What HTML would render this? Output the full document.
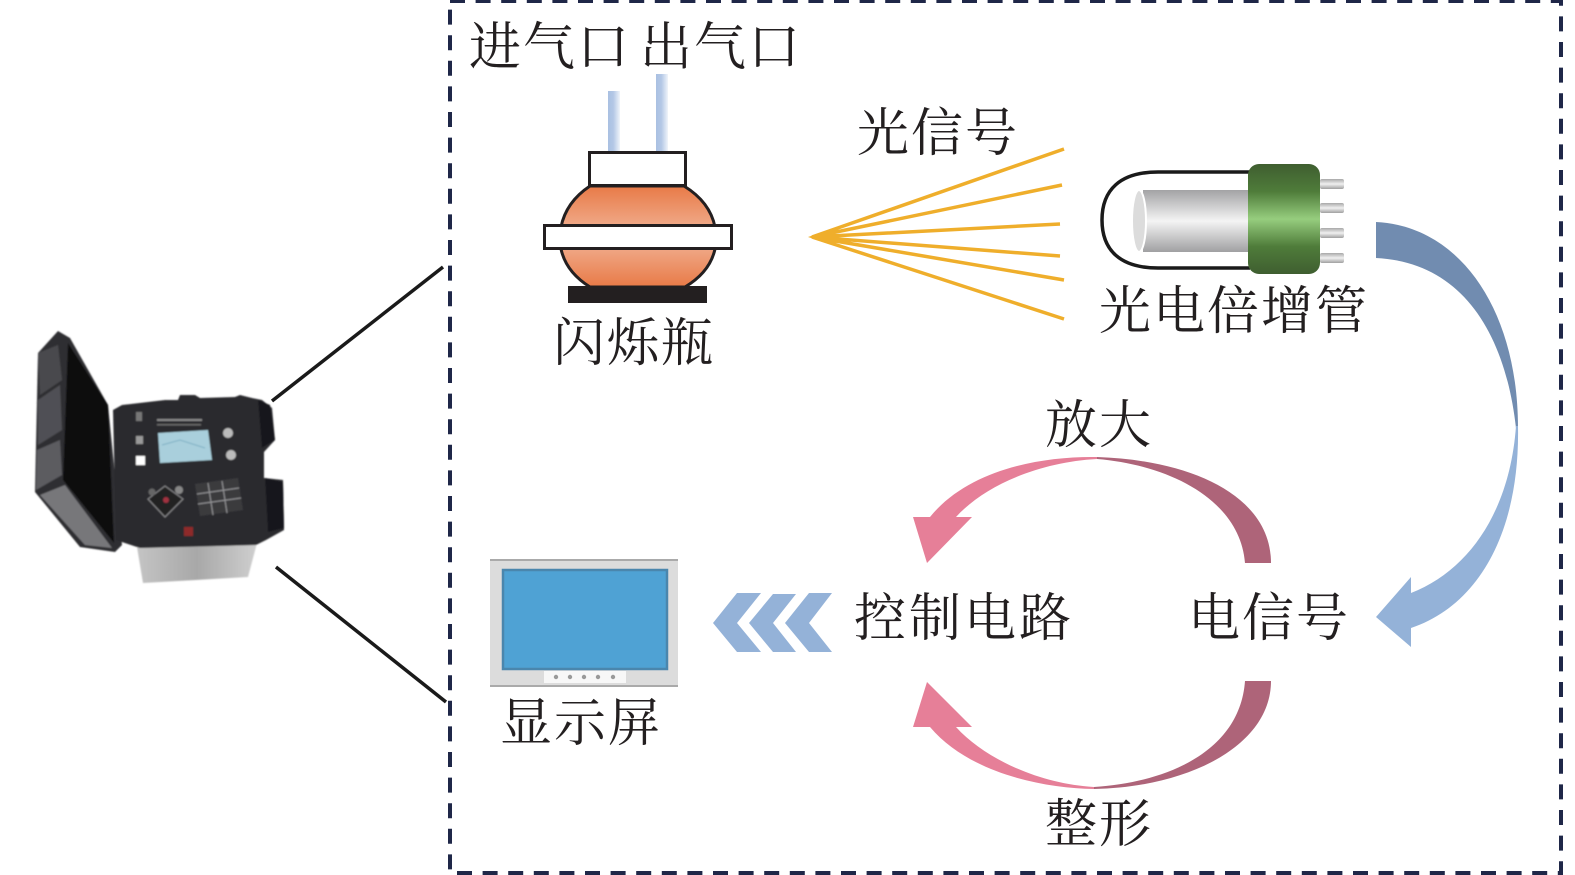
<!DOCTYPE html>
<html><head><meta charset="utf-8"><style>
html,body{margin:0;padding:0;background:#fff;width:1575px;height:875px;overflow:hidden}
svg{display:block}
text{font-family:"Liberation Serif","Noto Serif CJK SC",serif;font-size:52px;fill:#231f20;letter-spacing:2px}
</style></head><body>
<svg width="1575" height="875" viewBox="0 0 1575 875" xmlns="http://www.w3.org/2000/svg">
<defs>
<linearGradient id="tube" x1="0" x2="1" y1="0" y2="0"><stop offset="0" stop-color="#a9c0e2"/><stop offset=".45" stop-color="#b4c8e6"/><stop offset="1" stop-color="#f0f4fa"/></linearGradient>
<linearGradient id="fl" x1="0" x2="0" y1="0" y2="1"><stop offset="0" stop-color="#e87a47"/><stop offset=".4" stop-color="#f0a988"/><stop offset=".6" stop-color="#f0a988"/><stop offset="1" stop-color="#e87a47"/></linearGradient>
<linearGradient id="cyl" x1="0" x2="0" y1="0" y2="1"><stop offset="0" stop-color="#a3a3a5"/><stop offset=".5" stop-color="#f4f4f4"/><stop offset="1" stop-color="#a0a0a2"/></linearGradient>
<linearGradient id="grn" x1="0" x2="0" y1="0" y2="1"><stop offset="0" stop-color="#3f5e30"/><stop offset=".25" stop-color="#4f7c3a"/><stop offset=".5" stop-color="#96cd7e"/><stop offset=".75" stop-color="#4f7c3a"/><stop offset="1" stop-color="#3f5e30"/></linearGradient>
<linearGradient id="pin" x1="0" x2="0" y1="0" y2="1"><stop offset="0" stop-color="#a8a8a8"/><stop offset=".5" stop-color="#f0f0f0"/><stop offset="1" stop-color="#a0a0a0"/></linearGradient>
<linearGradient id="box" x1="0" x2="1" y1="0" y2="0"><stop offset="0" stop-color="#c4c4c4"/><stop offset=".5" stop-color="#a8a8a8"/><stop offset="1" stop-color="#cfcfcf"/></linearGradient>
<filter id="b" x="-5%" y="-5%" width="110%" height="110%"><feGaussianBlur stdDeviation="0.8"/></filter>
</defs>

<!-- dashed frame -->
<rect x="450" y="1" width="1111" height="872" fill="none" stroke="#1f2748" stroke-width="4" stroke-dasharray="15 10.6"/>

<!-- connector lines -->
<path d="M272 401L443 267M276 567L446 702" stroke="#1a1a1a" stroke-width="3.5" fill="none"/>

<!-- device -->
<g filter="url(#b)">
<polygon points="58,331 70,338 108,405 122,545 115,552 80,547 35,492 38,353" fill="#2f2f33"/>
<polygon points="38,353 58,345 62,380 40,395" fill="#4a4a4e"/>
<polygon points="38,400 60,385 62,430 38,445" fill="#505054"/>
<polygon points="37,450 60,440 62,475 36,490" fill="#5c5c60"/>
<polygon points="68,343 108,405 114,543 63,480" fill="#08080a"/>
<polygon points="40,495 65,485 112,548 85,545" fill="#77777a"/>
<polygon points="137,547 257,543 248,577 143,583" fill="url(#box)"/>
<polygon points="165,400 178,400 180,395 195,395 200,398 235,397 240,395 252,398 262,400 272,408 275,440 264,452 264,478 283,480 284,530 266,540 256,545 140,548 116,540 113,410 122,405" fill="#2b2b2f"/>
<polygon points="258,400 270,405 275,440 262,448" fill="#17171a"/>
<polygon points="265,478 283,482 284,528 268,532" fill="#17171a"/>
<polygon points="158,433 208,430 212,460 160,463" fill="#a9cfdc"/>
<path d="M162 445L180 440L205 448" stroke="#7fb0c4" fill="none"/>
<polygon points="195,484 238,478 243,510 200,516" fill="#3a3a3e"/>
<path d="M197 494L239 488M198 504L241 498M208 483L213 515M222 481L227 513" stroke="#9a9a9c" stroke-width="1" fill="none"/>
<polygon points="165,486 183,499 165,517 148,499" fill="#202024" stroke="#8e8e90"/>
<circle cx="166" cy="500" r="3" fill="#a03040"/>
<circle cx="152" cy="492" r="3.5" fill="#666"/><circle cx="179" cy="490" r="4" fill="#888"/>
<circle cx="228" cy="433" r="5" fill="#bbb"/><circle cx="231" cy="455" r="5" fill="#bbb"/>
<rect x="136" y="456" width="9" height="9" fill="#fff"/>
<rect x="136" y="436" width="7" height="8" fill="#999"/>
<rect x="136" y="412" width="6" height="9" fill="#777"/>
<rect x="157" y="419" width="45" height="2" fill="#8a8a8a"/><rect x="157" y="424" width="44" height="1.5" fill="#6a6a6a"/>
<rect x="184" y="527" width="9" height="9" fill="#8e2a2a"/>
</g>

<!-- scintillation flask -->
<rect x="608" y="91" width="12" height="61" fill="url(#tube)"/>
<rect x="656" y="74" width="12" height="78" fill="url(#tube)"/>
<path d="M590 186Q566 202 561 227L561 249Q566 272 590 287L685 287Q710 272 715 249L715 227Q710 202 684 186Z" fill="url(#fl)" stroke="#231f20" stroke-width="3"/>
<rect x="589.5" y="152.5" width="96" height="33" fill="#fff" stroke="#231f20" stroke-width="3"/>
<rect x="544.5" y="225.5" width="187" height="23" fill="#fff" stroke="#231f20" stroke-width="3"/>
<rect x="568" y="286" width="139" height="17" fill="#231f20"/>

<!-- light rays -->
<g stroke="#efae2b" stroke-width="3.5" fill="none">
<path d="M812 237L1064 149M812 237L1062 185M812 237L1060 224M812 237L1060 256M812 237L1064 280M812 237L1064 319"/>
</g>
<polygon points="808,237 835,228 835,246" fill="#efae2b"/>

<!-- PMT -->
<path d="M1250 172H1158C1120 172 1102 190 1102 220C1102 250 1120 268 1158 268H1250" fill="#fff" stroke="#1a1a1a" stroke-width="3.5"/>
<rect x="1143" y="190" width="106" height="62" fill="url(#cyl)"/>
<ellipse cx="1139" cy="221" rx="7" ry="31" fill="#dcdcdc" stroke="#fff" stroke-width="2"/>
<g fill="url(#pin)"><rect x="1320" y="179" width="24" height="10" rx="2"/><rect x="1320" y="203" width="24" height="10" rx="2"/><rect x="1320" y="228" width="24" height="10" rx="2"/><rect x="1320" y="253" width="24" height="10" rx="2"/></g>
<rect x="1248" y="164" width="72" height="110" rx="11" fill="url(#grn)"/>

<!-- big blue arrow -->
<path d="M1376 222C1460 226 1518 310 1518 428L1516 428C1505 330 1460 262 1376 258Z" fill="#718cb0"/>
<path d="M1516 426L1518 426C1520 530 1480 605 1411 628L1411 647L1376 617L1411 577L1411 593C1470 570 1510 510 1516 426Z" fill="#94b2d8"/>

<!-- pink arrows -->
<path d="M1097 457C1040 456 968 470 930 517L913 517L927 563L972 517L956 517C985 485 1040 462 1097 459Z" fill="#e67f98"/>
<path d="M1097 457C1190 460 1271 495 1271 563L1245 563C1240 500 1170 465 1097 459Z" fill="#ae6479"/>
<path d="M1094 789C1040 788 968 772 930 727L913 727L927 682L972 727L956 727C985 759 1040 784 1094 787Z" fill="#e67f98"/>
<path d="M1094 787C1170 782 1240 750 1245 681L1271 681C1271 745 1190 787 1094 789Z" fill="#ae6479"/>

<!-- monitor -->
<rect x="490" y="559" width="188" height="128" fill="#dcdcdc"/>
<rect x="490" y="559" width="188" height="2" fill="#aaa"/>
<rect x="490" y="685" width="188" height="2" fill="#aaa"/>
<rect x="503" y="570" width="164" height="99" fill="#4fa2d4" stroke="#4a86ad" stroke-width="2.5"/>
<rect x="544" y="671" width="82" height="12" fill="#f7f7f7"/>
<g fill="#999"><circle cx="556" cy="677" r="2.2"/><circle cx="570" cy="677" r="2.2"/><circle cx="584" cy="677" r="2.2"/><circle cx="598" cy="677" r="2.2"/><circle cx="613" cy="677" r="2.2"/></g>

<!-- chevrons -->
<g fill="#94b2d8">
<polygon points="713,623 737,593 761,593 737,623 761,652 737,652"/>
<polygon points="749,623 773,594 796,594 773,623 796,652 773,652"/>
<polygon points="785,623 809,593 832,593 809,623 832,652 809,652"/>
</g>

<!-- labels -->
<text x="469" y="65">进气口</text>
<text x="640" y="65">出气口</text>
<text x="857" y="151">光信号</text>
<text x="553" y="361">闪烁瓶</text>
<text x="1099" y="329">光电倍增管</text>
<text x="1045" y="443">放大</text>
<text x="854" y="636" style="letter-spacing:3px">控制电路</text>
<text x="1188" y="636">电信号</text>
<text x="500" y="741">显示屏</text>
<text x="1045" y="842">整形</text>
</svg>
</body></html>
